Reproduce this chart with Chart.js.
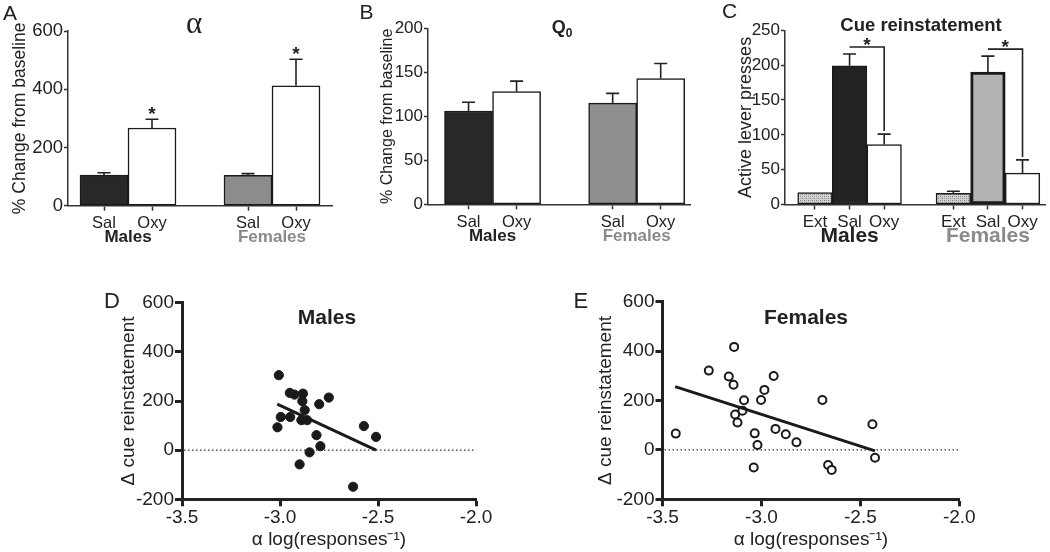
<!DOCTYPE html>
<html>
<head>
<meta charset="utf-8">
<script src="https://cdn.jsdelivr.net/npm/chart.js@4.4.1/dist/chart.umd.min.js"></script>
<style>
  body { margin: 0; background: #fff; }
  #fig { position: relative; width: 1050px; height: 552px; overflow: hidden; font-family: 'Liberation Sans', Arial, sans-serif; color: #222; }
  #fig canvas { position: absolute; }
  .lbl { position: absolute; white-space: nowrap; line-height: 1; }
  .ctr { transform: translateX(-50%); }
  .b { font-weight: bold; }
</style>
</head>
<body>
<div id="fig">
  <canvas id="chartA" width="345" height="250" style="left:0;top:0"></canvas>
  <canvas id="chartB" width="355" height="250" style="left:345px;top:0"></canvas>
  <canvas id="chartC" width="350" height="250" style="left:700px;top:0"></canvas>
  <canvas id="chartD" width="400" height="272" style="left:100px;top:280px"></canvas>
  <canvas id="chartE" width="400" height="272" style="left:580px;top:280px"></canvas>

  <div class="lbl" style="left:3px;top:2px;font-size:21px">A</div>
  <div class="lbl" style="left:359.5px;top:0.5px;font-size:21px">B</div>
  <div class="lbl" style="left:722px;top:0px;font-size:21px">C</div>
  <div class="lbl" style="left:104px;top:289.7px;font-size:22px">D</div>
  <div class="lbl" style="left:573.5px;top:289.7px;font-size:22px">E</div>

  <div class="lbl ctr" style="left:194px;top:7px;font-size:31px;font-family:'Liberation Serif',serif">α</div>
  <div class="lbl ctr b" style="left:562px;top:17.8px;font-size:18px">Q<span style="font-size:12px;position:relative;top:4px">0</span></div>
  <div class="lbl ctr b" style="left:921px;top:15.8px;font-size:18.5px">Cue reinstatement</div>
  <div class="lbl ctr b" style="left:327px;top:305.5px;font-size:21px">Males</div>
  <div class="lbl ctr b" style="left:806px;top:305.5px;font-size:21px">Females</div>
</div>

<script>
// ---- data ----
const groupNames = ['Males', 'Females'];

const abConditions = ['Sal', 'Oxy', 'Sal', 'Oxy'];
const alphaMean = [105, 267, 104, 412];
const alphaSem = [8, 30, 6, 91];
const alphaSig = [false, true, false, true];

const q0Mean = [106, 128, 115, 143];
const q0Sem = [10, 12, 11, 17];

const cueConditions = ['Ext', 'Sal', 'Oxy', 'Ext', 'Sal', 'Oxy'];
const cueMean = [17, 199, 86, 16, 190, 45];
const cueSem = [0, 17, 15, 3, 23, 19];

const maleAlpha = [-3.006, -2.996, -3.013, -2.950, -2.926, -2.948, -2.883, -2.886, -2.874, -2.891,
                   -2.862, -2.800, -2.751, -2.814, -2.794, -2.849, -2.900, -2.627, -2.572, -2.510];
const maleCue = [305, 135, 93, 233, 226, 135, 230, 199, 163, 122,
                 122, 187, 214, 61, 16, -9, -58, -149, 98, 54];
const maleFitX = [-3.014, -2.51];
const maleFitY = [187, 0];

const femaleAlpha = [-3.433, -3.266, -3.138, -3.165, -3.141, -3.088, -3.133, -3.121, -3.096, -3.002, -2.985, -2.938,
                     -3.034, -3.020, -3.039, -2.929, -2.877, -2.823, -2.692, -2.663, -2.645, -2.439, -2.426];
const femaleCue = [66, 321, 417, 297, 264, 201, 143, 111, 159, 202, 243, 299,
                   67, 20, -71, 85, 63, 31, 202, -61, -81, 104, -32];
const femaleFitX = [-3.436, -2.426];
const femaleFitY = [256, -4];

const INK = '#222';
const FEMALE_GREY = '#8a8a8a';

// speckled fill used for the extinction bars
function speckle() {
    const c = document.createElement('canvas');
    c.width = 4; c.height = 4;
    const g = c.getContext('2d');
    g.fillStyle = '#d2d2d2';
    g.fillRect(0, 0, 4, 4);
    g.fillStyle = '#7a7a7a';
    g.fillRect(0, 0, 1, 1); g.fillRect(2, 2, 1, 1);
    g.fillStyle = '#a4a4a4';
    g.fillRect(2, 0, 1, 1); g.fillRect(0, 2, 1, 1);
    return g.createPattern(c, 'repeat');
}

// error bars, stars, brackets and group names under the bars
const barExtras = {
    id: 'barExtras',
    afterDatasetsDraw: (chart, args, opts) => {
        const { ctx, chartArea } = chart;
        const y = chart.scales.y;
        const bars = chart.getDatasetMeta(0).data;
        const vals = chart.data.datasets[0].data;
        const errTop = i => y.getPixelForValue(vals[i].y + opts.err[i]);

        ctx.save();
        ctx.strokeStyle = INK;
        ctx.fillStyle = INK;
        ctx.lineWidth = 1.6;
        bars.forEach((bar, i) => {
            if (!opts.err[i]) return;
            const t = errTop(i);
            ctx.beginPath();
            ctx.moveTo(bar.x, bar.y);
            ctx.lineTo(bar.x, t);
            ctx.moveTo(bar.x - 6.5, t);
            ctx.lineTo(bar.x + 6.5, t);
            ctx.stroke();
        });

        ctx.font = 'bold 19px "Liberation Sans", Arial';
        ctx.textAlign = 'center';
        ctx.textBaseline = 'alphabetic';
        (opts.stars || []).forEach((s, i) => {
            if (s) ctx.fillText('*', bars[i].x, errTop(i) + 1);
        });

        (opts.brackets || []).forEach(([a, b]) => {
            const level = errTop(a) - 7;
            ctx.beginPath();
            ctx.moveTo(bars[a].x, level);
            ctx.lineTo(bars[b].x, level);
            ctx.lineTo(bars[b].x, errTop(b) - 3);
            ctx.stroke();
            ctx.fillText('*', (bars[a].x + bars[b].x) / 2, level + 4);
        });

        ctx.textBaseline = 'middle';
        ctx.font = 'bold ' + opts.groupSize + 'px "Liberation Sans", Arial';
        opts.groups.forEach(g => {
            const cx = (bars[g.from].x + bars[g.to].x) / 2;
            ctx.fillStyle = g.color;
            ctx.fillText(g.label, cx, chartArea.bottom + 32);
        });
        ctx.restore();
    }
};

function barPanel(id, o) {
    // each group gets one empty slot after it
    const slots = o.labels.map((_, i) => i + Math.floor(i / o.perGroup));
    return new Chart(document.getElementById(id), {
        type: 'bar',
        data: {
            datasets: [{
                data: o.values.map((v, i) => ({ x: slots[i], y: v })),
                backgroundColor: o.fills,
                borderColor: '#1a1a1a',
                borderWidth: o.borders,
                borderSkipped: false,
                categoryPercentage: 1,
                barPercentage: 1
            }]
        },
        options: {
            responsive: false,
            animation: false,
            layout: { padding: o.pad },
            plugins: {
                legend: { display: false },
                tooltip: { enabled: false },
                barExtras: {
                    err: o.err, stars: o.stars, brackets: o.brackets,
                    groups: o.groups, groupSize: o.groupSize
                }
            },
            scales: {
                x: {
                    type: 'linear',
                    offset: false,
                    bounds: 'data',
                    min: o.xMin,
                    max: o.xMax,
                    afterBuildTicks: s => { s.ticks = slots.map(v => ({ value: v })); },
                    afterFit: s => { s.height = o.xH; },
                    grid: { offset: false, drawOnChartArea: false, tickLength: 5, tickWidth: 1.5, tickColor: '#333' },
                    border: { color: '#333', width: 1.5 },
                    ticks: {
                        callback: (v, i) => o.labels[i],
                        autoSkip: false, maxRotation: 0, padding: 3,
                        color: INK, font: { size: o.xFont }
                    }
                },
                y: {
                    min: 0,
                    max: o.yMax,
                    afterFit: s => { s.width = o.yW; },
                    grid: { drawOnChartArea: false, tickLength: 4, tickWidth: 1.5, tickColor: '#333' },
                    border: { color: '#333', width: 1.5 },
                    ticks: { stepSize: o.yStep, padding: 1, color: INK, font: { size: o.yFont } },
                    title: {
                        display: true, text: o.yTitle, color: INK,
                        font: { size: o.titleFont }, padding: { top: o.titlePad, bottom: 0 }
                    }
                }
            }
        },
        plugins: [barExtras]
    });
}

barPanel('chartA', {
    labels: abConditions, perGroup: 2, values: alphaMean, err: alphaSem, stars: alphaSig,
    fills: ['#282828', '#fff', '#8c8c8c', '#fff'], borders: 1.5,
    groups: [{ label: groupNames[0], from: 0, to: 1, color: INK }, { label: groupNames[1], from: 2, to: 3, color: FEMALE_GREY }],
    groupSize: 17,
    pad: { left: 0, top: 31, right: 13, bottom: 0 },
    xMin: -0.75, xMax: 4.75, xH: 44.3, xFont: 16.5,
    yMax: 600, yStep: 200, yW: 68, yFont: 18.5,
    yTitle: '% Change from baseline', titleFont: 17.5, titlePad: 9.5
});

barPanel('chartB', {
    labels: abConditions, perGroup: 2, values: q0Mean, err: q0Sem,
    fills: ['#282828', '#fff', '#8f8f8f', '#fff'], borders: 1.5,
    groups: [{ label: groupNames[0], from: 0, to: 1, color: INK }, { label: groupNames[1], from: 2, to: 3, color: FEMALE_GREY }],
    groupSize: 17,
    pad: { left: 0, top: 28.3, right: 10, bottom: 0 },
    xMin: -0.844, xMax: 4.61, xH: 45.7, xFont: 16.5,
    yMax: 200, yStep: 50, yW: 83, yFont: 17,
    yTitle: '% Change from baseline', titleFont: 16, titlePad: 33.4
});

barPanel('chartC', {
    labels: cueConditions, perGroup: 3, values: cueMean, err: cueSem,
    brackets: [[1, 2], [4, 5]],
    fills: [speckle(), '#222', '#fff', speckle(), '#b3b3b3', '#fff'],
    borders: [1.5, 1.5, 1.5, 1.5, 3, 1.5],
    groups: [{ label: groupNames[0], from: 0, to: 2, color: INK }, { label: groupNames[1], from: 3, to: 5, color: FEMALE_GREY }],
    groupSize: 21,
    pad: { left: 0, top: 30.3, right: 5, bottom: 0 },
    xMin: -0.867, xMax: 6.65, xH: 45.5, xFont: 17,
    yMax: 250, yStep: 50, yW: 85, yFont: 17,
    yTitle: 'Active lever presses', titleFont: 18, titlePad: 35.2
});

// dotted zero line across the scatter panels
const zeroLine = {
    id: 'zeroLine',
    beforeDatasetsDraw: chart => {
        const { ctx, chartArea } = chart;
        const y0 = chart.scales.y.getPixelForValue(0);
        ctx.save();
        ctx.strokeStyle = '#333';
        ctx.lineWidth = 1.3;
        ctx.setLineDash([1.5, 2.5]);
        ctx.beginPath();
        ctx.moveTo(chartArea.left + 2, y0);
        ctx.lineTo(chartArea.right, y0);
        ctx.stroke();
        ctx.restore();
    }
};

function scatterPanel(id, o) {
    return new Chart(document.getElementById(id), {
        type: 'scatter',
        data: {
            datasets: [
                {
                    data: o.fitX.map((x, i) => ({ x: x, y: o.fitY[i] })),
                    showLine: true, borderColor: '#1a1a1a', borderWidth: 3, pointRadius: 0
                },
                {
                    data: o.xs.map((x, i) => ({ x: x, y: o.ys[i] })),
                    pointRadius: o.radius,
                    pointBackgroundColor: o.fill,
                    pointBorderColor: '#1a1a1a',
                    pointBorderWidth: o.ring
                }
            ]
        },
        options: {
            responsive: false,
            animation: false,
            layout: { padding: o.pad },
            plugins: { legend: { display: false }, tooltip: { enabled: false } },
            scales: {
                x: {
                    min: -3.5, max: -2.0,
                    afterFit: s => { s.height = 52.7; },
                    grid: { drawOnChartArea: false, tickLength: 7, tickWidth: 3, tickColor: INK },
                    border: { color: INK, width: 3 },
                    ticks: { stepSize: 0.5, padding: 0, color: INK, font: { size: 19 }, callback: v => v.toFixed(1) },
                    title: {
                        display: true, text: 'α log(responses⁻¹)', color: INK,
                        font: { size: 19 }, padding: { top: 0, bottom: 1 }
                    }
                },
                y: {
                    min: -200, max: 600,
                    afterFit: s => { s.width = o.yW; },
                    grid: { drawOnChartArea: false, tickLength: 7, tickWidth: 3, tickColor: INK },
                    border: { color: INK, width: 3 },
                    ticks: { stepSize: 200, padding: 1, color: INK, font: { size: 19 } },
                    title: {
                        display: true, text: 'Δ cue reinstatement', color: INK,
                        font: { size: 19 }, padding: { top: o.titlePad, bottom: 0 }
                    }
                }
            }
        },
        plugins: [zeroLine]
    });
}

scatterPanel('chartD', {
    xs: maleAlpha, ys: maleCue, fitX: maleFitX, fitY: maleFitY,
    fill: '#1a1a1a', radius: 4.6, ring: 1,
    pad: { left: 0, top: 22.7, right: 24, bottom: 0 },
    yW: 82, titlePad: 17.6
});

scatterPanel('chartE', {
    xs: femaleAlpha, ys: femaleCue, fitX: femaleFitX, fitY: femaleFitY,
    fill: '#fff', radius: 4, ring: 2,
    pad: { left: 0, top: 21.7, right: 20.7, bottom: 0 },
    yW: 82.5, titlePad: 14.6
});
</script>
</body>
</html>
